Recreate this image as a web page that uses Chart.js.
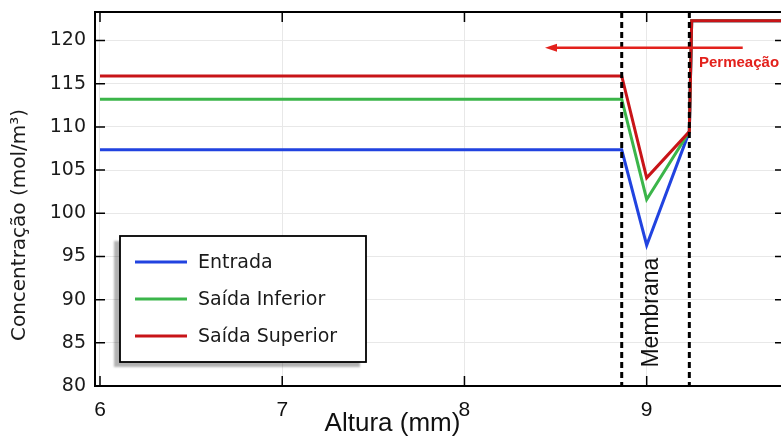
<!DOCTYPE html>
<html>
<head>
<meta charset="utf-8">
<script src="https://cdn.jsdelivr.net/npm/chart.js@4.4.1/dist/chart.umd.min.js"></script>
<style>
  html, body { margin: 0; padding: 0; background: #fff; overflow: hidden; }
  #wrap { position: relative; width: 785px; height: 438px; }
</style>
</head>
<body>
<div id="wrap"><canvas id="chart"></canvas></div>
<script>
// altura (mm) of the profile points
const altura = [6.0, 8.863, 9.0, 9.234, 9.247, 9.76];
// concentration (mol/m3) for each profile
const entrada = [107.35, 107.35, 96.3, 109.45, 122.3, 122.3];
const saidaInferior = [113.2, 113.2, 101.6, 109.45, 122.3, 122.3];
const saidaSuperior = [115.9, 115.9, 104.1, 109.45, 122.3, 122.3];

const seriesNames = ['Entrada', 'Saída Inferior', 'Saída Superior'];
const xTicks = [6, 7, 8, 9];
const yTicks = [80, 85, 90, 95, 100, 105, 110, 115, 120];
// membrane boundaries (mm)
const membrana = [8.863, 9.234];

const colors = ['#2143e0', '#3bb54a', '#c81418'];
const serieValues = [entrada, saidaInferior, saidaSuperior];

function toPoints(ys) {
  return altura.map((x, i) => ({ x: x, y: ys[i] }));
}

// dashed membrane lines, arrow and labels
const annotations = {
  id: 'annotations',
  afterDatasetsDraw(chart) {
    const { ctx, chartArea: a, scales: { x, y } } = chart;
    ctx.save();
    ctx.beginPath();
    ctx.rect(a.left, a.top, a.right - a.left, a.bottom - a.top);
    ctx.clip();

    ctx.strokeStyle = '#000';
    ctx.lineWidth = 3;
    ctx.setLineDash([6, 4]);
    membrana.forEach(v => {
      const px = x.getPixelForValue(v);
      ctx.beginPath();
      ctx.moveTo(px, a.top);
      ctx.lineTo(px, a.bottom);
      ctx.stroke();
    });
    ctx.setLineDash([]);

    ctx.save();
    ctx.translate(x.getPixelForValue(9.027), y.getPixelForValue(88.5));
    ctx.rotate(-Math.PI / 2);
    ctx.font = '23px "Liberation Sans", Arial, sans-serif';
    ctx.fillStyle = '#111';
    ctx.textAlign = 'center';
    ctx.textBaseline = 'middle';
    ctx.fillText('Membrana', 0, 0);
    ctx.restore();

    // Permeação arrow
    const ay = y.getPixelForValue(119.15);
    const x0 = x.getPixelForValue(9.527);
    const x1 = x.getPixelForValue(8.442);
    ctx.strokeStyle = '#e3211c';
    ctx.fillStyle = '#e3211c';
    ctx.lineWidth = 2.5;
    ctx.beginPath();
    ctx.moveTo(x0, ay);
    ctx.lineTo(x1 + 8, ay);
    ctx.stroke();
    ctx.beginPath();
    ctx.moveTo(x1, ay);
    ctx.lineTo(x1 + 12, ay - 4);
    ctx.lineTo(x1 + 12, ay + 4);
    ctx.closePath();
    ctx.fill();

    ctx.font = 'bold 15px "Liberation Sans", Arial, sans-serif';
    ctx.textAlign = 'left';
    ctx.textBaseline = 'middle';
    ctx.fillText('Permeação', x.getPixelForValue(9.287), y.getPixelForValue(117.4));
    ctx.restore();
  }
};

// box frame with inward ticks + legend with shadow
const frame = {
  id: 'frame',
  afterDraw(chart) {
    const { ctx, chartArea: a, scales: { x, y } } = chart;
    ctx.save();
    ctx.strokeStyle = '#000';
    ctx.lineWidth = 1.5;
    ctx.beginPath();
    xTicks.forEach(v => {
      const px = x.getPixelForValue(v);
      ctx.moveTo(px, a.bottom); ctx.lineTo(px, a.bottom - 10);
      ctx.moveTo(px, a.top); ctx.lineTo(px, a.top + 10);
    });
    yTicks.forEach(v => {
      const py = y.getPixelForValue(v);
      ctx.moveTo(a.left, py); ctx.lineTo(a.left + 10, py);
      ctx.moveTo(a.right, py); ctx.lineTo(a.right - 10, py);
    });
    ctx.stroke();
    ctx.lineWidth = 2;
    ctx.strokeRect(a.left, a.top, a.right - a.left, a.bottom - a.top);

    // legend
    const lx = a.left + 25, ly = 236, lw = 246, lh = 126;
    ctx.save();
    ctx.shadowColor = 'rgba(0,0,0,0.3)';
    ctx.shadowOffsetX = -6;
    ctx.shadowOffsetY = 5;
    ctx.shadowBlur = 2;
    ctx.fillStyle = '#fff';
    ctx.fillRect(lx, ly, lw, lh);
    ctx.restore();
    ctx.lineWidth = 1.8;
    ctx.strokeRect(lx, ly, lw, lh);
    ctx.font = '19px "DejaVu Sans", sans-serif';
    ctx.textBaseline = 'middle';
    ctx.textAlign = 'left';
    chart.data.datasets.forEach((ds, i) => {
      const ry = ly + 26 + i * 37;
      ctx.strokeStyle = ds.borderColor;
      ctx.lineWidth = 3;
      ctx.beginPath();
      ctx.moveTo(lx + 15, ry);
      ctx.lineTo(lx + 67, ry);
      ctx.stroke();
      ctx.fillStyle = '#1a1a1a';
      ctx.fillText(ds.label, lx + 78, ry + 1);
    });
    ctx.restore();
  }
};

const ctx = document.getElementById('chart').getContext('2d');
const chart = new Chart(ctx, {
  type: 'line',
  data: {
    datasets: seriesNames.map((name, i) => ({
      label: name,
      data: toPoints(serieValues[i]),
      borderColor: colors[i],
      backgroundColor: colors[i],
      borderWidth: 3,
      pointRadius: 0,
      tension: 0,
      fill: false,
      order: seriesNames.length - i   // red on top
    }))
  },
  options: {
    responsive: true,
    maintainAspectRatio: false,
    animation: false,
    layout: { padding: { top: 12, right: 0, left: 0, bottom: 0 } },
    plugins: {
      legend: { display: false },
      tooltip: { enabled: false },
      title: {
        display: true,
        position: 'bottom',
        text: 'Altura (mm)',
        color: '#111',
        font: { family: '"Liberation Sans", Arial, sans-serif', size: 26, weight: 'normal', lineHeight: 0.25 },
        padding: { top: 0, bottom: 11 }
      },
      subtitle: {
        display: true,
        position: 'left',
        text: 'Concentração (mol/m³)',
        color: '#1a1a1a',
        font: { family: '"DejaVu Sans", sans-serif', size: 20, weight: 'normal' },
        padding: { top: 8, bottom: 0 }
      }
    },
    scales: {
      x: {
        type: 'linear',
        min: 5.9726,
        max: 9.759,
        afterBuildTicks: s => { s.ticks = xTicks.map(v => ({ value: v })); },
        afterFit: s => { s.height = 34.5; s.paddingLeft = 0; s.paddingRight = 0; },
        grid: { color: '#e8e8e8', lineWidth: 1, drawTicks: false },
        border: { display: false },
        ticks: {
          padding: 12,
          color: '#111',
          font: { family: '"Liberation Sans Narrow", "Liberation Sans", Arial, sans-serif', size: 21 }
        }
      },
      y: {
        min: 80,
        max: 123.3,
        afterBuildTicks: s => { s.ticks = yTicks.map(v => ({ value: v })); },
        afterFit: s => { s.width = 63; s.paddingTop = 0; s.paddingBottom = 0; },
        grid: { color: '#e8e8e8', lineWidth: 1, drawTicks: false },
        border: { display: false },
        ticks: {
          padding: 9,
          color: '#1a1a1a',
          font: { family: '"DejaVu Sans", sans-serif', size: 19 }
        }
      }
    }
  },
  plugins: [annotations, frame]
});
</script>
</body>
</html>
